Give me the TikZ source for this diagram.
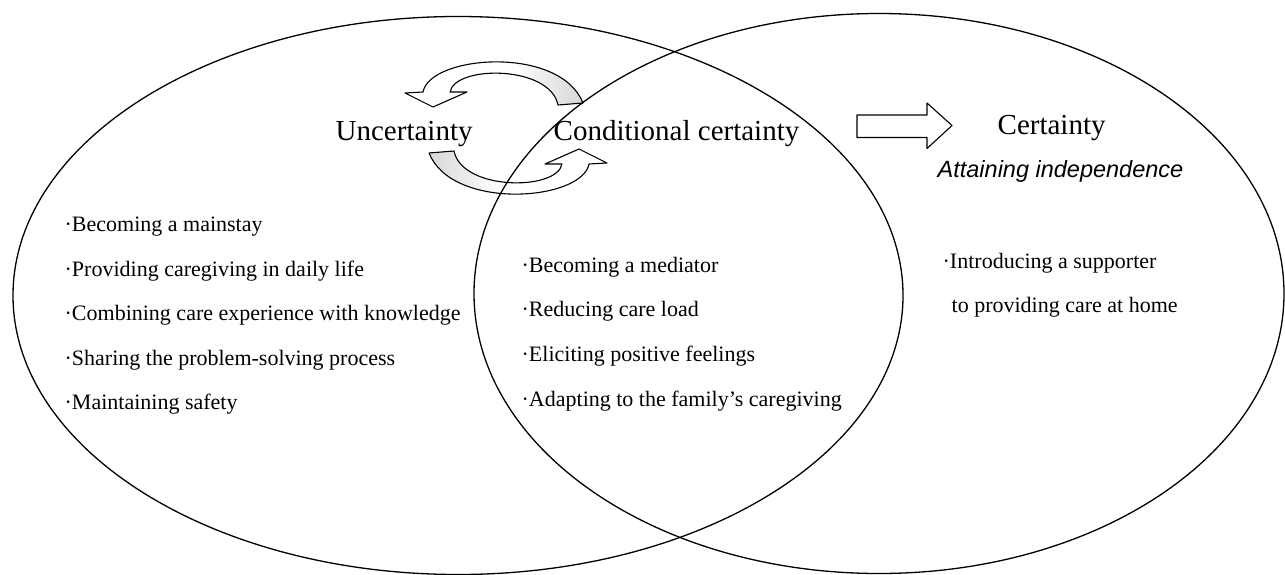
\documentclass[tikz,border=0pt]{standalone}
\usepackage{fontspec}
\setmainfont{Liberation Serif}
\newfontfamily\italsans{Liberation Sans}
\begin{document}
\begin{tikzpicture}[x=1pt,y=-1pt,
  line width=1.3pt,
  item/.style={anchor=base west, inner sep=0pt, font=\fontsize{22}{26}\selectfont},
  headtxt/.style={anchor=base west, inner sep=0pt, font=\fontsize{29}{34}\selectfont},
  subtxt/.style={anchor=base west, inner sep=0pt, font=\italsans\itshape\fontsize{23.5}{28}\selectfont},
  band/.style={draw=black, line width=1.1pt, line join=round},
  ring/.style={draw=black, line width=1.3pt}]
\useasboundingbox (0,0) rectangle (1285,575);

% upper cyclic arrow
\fill[white] (558,105) .. controls (550,65) and (455,65) .. (450,92) -- (467,92) -- (433,107) -- (405,93) -- (423,92) .. controls (430,55) and (560,45) .. (583,103) -- cycle;
\begin{scope}
  \clip (558,105) .. controls (550,65) and (455,65) .. (450,92) -- (467,92) -- (433,107) -- (405,93) -- (423,92) .. controls (430,55) and (560,45) .. (583,103) -- cycle;
  \shade[left color=white, right color=gray!35] (512,40) rectangle (590,115);
\end{scope}
\draw[band] (558,105) .. controls (550,65) and (455,65) .. (450,92) -- (467,92) -- (433,107) -- (405,93) -- (423,92) .. controls (430,55) and (560,45) .. (583,103) -- cycle;

% lower cyclic arrow
\fill[white] (454,151) .. controls (462,191) and (557,191) .. (562,164) -- (545,164) -- (579,149) -- (607,163) -- (589,164) .. controls (582,201) and (452,211) .. (429,153) -- cycle;
\begin{scope}
  \clip (454,151) .. controls (462,191) and (557,191) .. (562,164) -- (545,164) -- (579,149) -- (607,163) -- (589,164) .. controls (582,201) and (452,211) .. (429,153) -- cycle;
  \shade[left color=gray!35, right color=white] (422,141) rectangle (500,216);
\end{scope}
\draw[band] (454,151) .. controls (462,191) and (557,191) .. (562,164) -- (545,164) -- (579,149) -- (607,163) -- (589,164) .. controls (582,201) and (452,211) .. (429,153) -- cycle;

% ellipses
\draw[ring] (458,295.5) ellipse [x radius=445, y radius=279];
\draw[ring] (879,293.5) ellipse [x radius=405, y radius=280];

% block arrow
\draw[band] (857,115) -- (927,115) -- (927,103) -- (952,125.5) -- (927,148.5) -- (927,137.5) -- (857,137.5) -- cycle;

% headings
\node[headtxt] (unc) at (335,141) {Uncertainty};
\node[headtxt] (cond) at (553,141) {Conditional certainty};
\node[headtxt] (cert) at (997,135) {Certainty};
\node[subtxt] (att) at (937,177) {Attaining independence};

% left list
\node[item] (l1) at (64,231) {·Becoming a mainstay};
\node[item] (l2) at (64,276) {·Providing caregiving in daily life};
\node[item] (l3) at (64,320.5) {·Combining care experience with knowledge};
\node[item] (l4) at (64,365) {·Sharing the problem-solving process};
\node[item] (l5) at (64,409.5) {·Maintaining safety};

% middle list
\node[item] (m1) at (521,272) {·Becoming a mediator};
\node[item] (m2) at (521,316.7) {·Reducing care load};
\node[item] (m3) at (521,361.7) {·Eliciting positive feelings};
\node[item] (m4) at (521,406.7) {·Adapting to the family’s caregiving};

% right list
\node[item] (r1) at (942,268) {·Introducing a supporter};
\node[item] (r2) at (951,312) {to providing care at home};
\end{tikzpicture}
\end{document}
